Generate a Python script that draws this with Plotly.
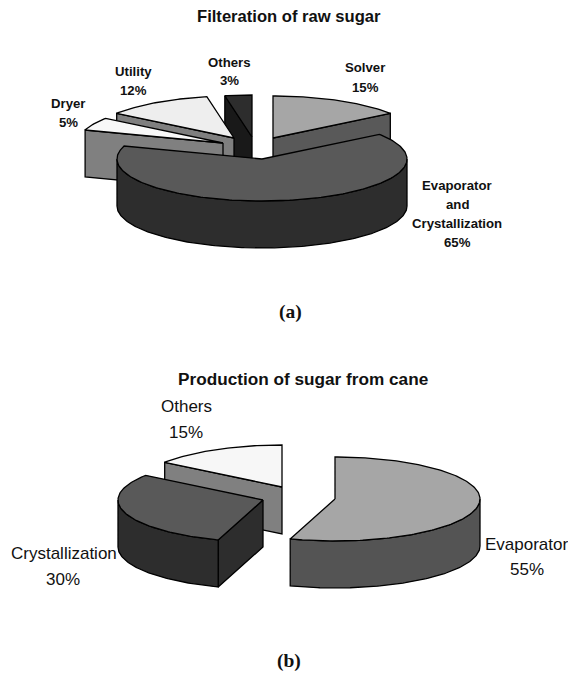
import math
import plotly.graph_objects as go

# Shares (%) of each slice, listed clockwise from 12 o'clock
raw_names = ["Solver", "Evaporator and Crystallization", "Dryer", "Utility", "Others"]
raw_shares = [15, 65, 5, 12, 3]
cane_names = ["Evaporator", "Crystallization", "Others"]
cane_shares = [55, 30, 15]

# Ellipse radii and extrusion depth of the tilted discs, in page pixels
RX, RY, DEPTH = 145, 42, 47
OUTLINE = "#000000"

# Exploded position of each slice's apex
raw_apex = [(273, 138), (262, 159), (223, 143), (234, 138), (252, 137)]
cane_apex = [(335, 499), (263, 500), (282, 487)]

# Fill colours: top face, side wall
raw_top = ["#a6a6a6", "#595959", "#f8f8f8", "#eeeeee", "#2d2d2d"]
raw_wall = ["#595959", "#2d2d2d", "#808080", "#7f7f7f", "#191919"]
cane_top = ["#a6a6a6", "#595959", "#f7f7f7"]
cane_wall = ["#545454", "#2d2d2d", "#808080"]


def rim(cx, cy, deg):
    t = math.radians(deg)
    return cx + RX * math.sin(t), cy - RY * math.cos(t)


def polygon(fig, pts, color):
    xs = [p[0] for p in pts] + [pts[0][0]]
    ys = [p[1] for p in pts] + [pts[0][1]]
    fig.add_trace(go.Scatter(
        x=xs, y=ys, mode="lines", fill="toself", fillcolor=color,
        line=dict(color=OUTLINE, width=1.3, shape="linear"),
        hoverinfo="skip", showlegend=False,
    ))


def sweep(start, end):
    n = max(2, int(abs(end - start)) + 1)
    return [start + (end - start) * i / (n - 1) for i in range(n)]


def draw_slice(fig, cx, cy, start, end, top, wall):
    # radial cut faces that turn towards the viewer
    if math.sin(math.radians(start)) < -1e-9:
        p = rim(cx, cy, start)
        polygon(fig, [(cx, cy), p, (p[0], p[1] + DEPTH), (cx, cy + DEPTH)], wall)
    if math.sin(math.radians(end)) > 1e-9:
        p = rim(cx, cy, end)
        polygon(fig, [(cx, cy), p, (p[0], p[1] + DEPTH), (cx, cy + DEPTH)], wall)
    # outer wall: only the front half of the rim is visible
    lo, hi = max(start, 90), min(end, 270)
    if hi > lo:
        arc = [rim(cx, cy, d) for d in sweep(lo, hi)]
        polygon(fig, arc + [(x, y + DEPTH) for x, y in reversed(arc)], wall)
    # top face
    polygon(fig, [(cx, cy)] + [rim(cx, cy, d) for d in sweep(start, end)], top)


def draw_pie(fig, shares, apex, tops, walls, order):
    edges = [0]
    for s in shares:
        edges.append(edges[-1] + s * 3.6)
    for i in order:
        draw_slice(fig, apex[i][0], apex[i][1], edges[i], edges[i + 1], tops[i], walls[i])


fig = go.Figure()
draw_pie(fig, raw_shares, raw_apex, raw_top, raw_wall, [4, 3, 2, 0, 1])
draw_pie(fig, cane_shares, cane_apex, cane_top, cane_wall, [2, 1, 0])


def note(x, y, text, size, family="Liberation Sans", bold=False):
    fig.add_annotation(
        x=x, y=y, xref="x", yref="y", text=f"<b>{text}</b>" if bold else text,
        showarrow=False, xanchor="center", yanchor="middle",
        font=dict(family=family, size=size, color="#111111"),
    )


# Titles and panel letters
note(289, 16, "Filteration of raw sugar", 16.6, bold=True)
note(303, 379, "Production of sugar from cane", 17.2, bold=True)
note(290, 312, "(a)", 19.5, family="Liberation Serif", bold=True)
note(288.5, 661, "(b)", 19.5, family="Liberation Serif", bold=True)

# Bold slice labels of the upper pie
LABEL_A = 13.2
note(365, 67, raw_names[0], LABEL_A, bold=True)
note(365, 87, f"{raw_shares[0]}%", LABEL_A, bold=True)
for y, line in zip((185, 204, 223), raw_names[1].replace(" and ", "|and|").split("|")):
    note(457, y, line, LABEL_A, bold=True)
note(457, 242, f"{raw_shares[1]}%", LABEL_A, bold=True)
note(68, 103, raw_names[2], LABEL_A, bold=True)
note(68, 122, f"{raw_shares[2]}%", LABEL_A, bold=True)
note(133, 71, raw_names[3], LABEL_A, bold=True)
note(133, 90, f"{raw_shares[3]}%", LABEL_A, bold=True)
note(229, 62, raw_names[4], LABEL_A, bold=True)
note(229, 80, f"{raw_shares[4]}%", LABEL_A, bold=True)

# Plain slice labels of the lower pie
LABEL_B = 17
note(526, 544, cane_names[0], LABEL_B)
note(527, 569, f"{cane_shares[0]}%", LABEL_B)
note(64, 553, cane_names[1], LABEL_B)
note(63, 579, f"{cane_shares[1]}%", LABEL_B)
note(186, 406, cane_names[2], LABEL_B)
note(186, 432, f"{cane_shares[2]}%", LABEL_B)

fig.update_layout(
    width=568, height=675, margin=dict(l=0, r=0, t=0, b=0),
    paper_bgcolor="white", plot_bgcolor="white", showlegend=False,
    xaxis=dict(range=[0, 568], visible=False, fixedrange=True),
    yaxis=dict(range=[675, 0], visible=False, fixedrange=True),
)
fig.write_html("out.html", config=dict(displayModeBar=False))
